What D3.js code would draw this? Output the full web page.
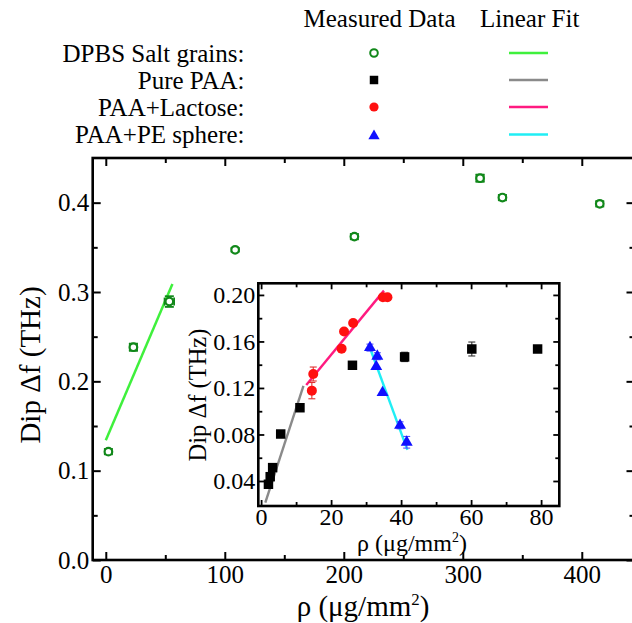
<!DOCTYPE html>
<html>
<head>
<meta charset="utf-8">
<script src="https://cdn.jsdelivr.net/npm/d3@7/dist/d3.min.js"></script>
<style>
  html, body { margin: 0; padding: 0; background: #fff; }
  svg { display: block; }
  svg text { font-family: "Liberation Serif", "Times New Roman", serif; }
</style>
</head>
<body>
<svg id="chart" width="632" height="623"></svg>
<script>
const SERIF = "Liberation Serif, Times New Roman, serif";

// ---- Main panel: DPBS salt grains ----
const saltX    = [2.2, 23.2, 53.4, 108.7, 208.9, 314.5, 333.3, 415.1];
const saltY    = [0.1213, 0.2382, 0.2893, 0.3472, 0.362, 0.4274, 0.4057, 0.3987];
const saltYErr = [0.003, 0.004, 0.006, 0.002, 0.003, 0.004, 0.003, 0.003];
const saltXErr = [0, 3, 4, 0, 0, 3, 0, 0];
const saltFitX = [0, 56];
const saltFitY = [0.134, 0.309];

// ---- Inset: Pure PAA ----
const paaX    = [2.1, 2.6, 3.3, 5.6, 11.1, 26.1, 41.0, 60.2, 79.0];
const paaY    = [0.0372, 0.0437, 0.0515, 0.0804, 0.103, 0.1395, 0.1467, 0.1535, 0.1535];
const paaYErr = [0, 0, 0, 0, 0, 0, 0.004, 0.006, 0];
const paaFitX = [1.2, 12.1];
const paaFitY = [0.0213, 0.1217];

// ---- Inset: PAA + Lactose ----
const lacX    = [14.5, 14.9, 23.0, 23.7, 26.3, 34.8, 36.1];
const lacY    = [0.1177, 0.132, 0.1538, 0.1685, 0.1759, 0.198, 0.198];
const lacYErr = [0.007, 0.006, 0, 0, 0, 0, 0];
const lacFitX = [12.9, 35.1];
const lacFitY = [0.1226, 0.2037];

// ---- Inset: PAA + PE sphere ----
const peX    = [31.1, 33.2, 32.9, 34.7, 39.7, 41.6];
const peY    = [0.1547, 0.1473, 0.1384, 0.116, 0.0879, 0.0733];
const peYErr = [0.003, 0.003, 0, 0, 0.003, 0.005];
const peFitX = [30.9, 41.8];
const peFitY = [0.1561, 0.0667];

// ---- Tick values ----
const mainXTicks  = [0, 100, 200, 300, 400];
const mainXMinor  = [50, 150, 250, 350];
const mainYTicks  = [0.0, 0.1, 0.2, 0.3, 0.4];
const mainYMinor  = [0.05, 0.15, 0.25, 0.35];
const insetXTicks = [0, 20, 40, 60, 80];
const insetXMinor = [10, 30, 50, 70];
const insetYTicks = [0.04, 0.08, 0.12, 0.16, 0.20];
const insetYMinor = [0.06, 0.10, 0.14, 0.18];

// ---- Legend ----
const legendNames = ["DPBS Salt grains:", "Pure PAA:", "PAA+Lactose:", "PAA+PE sphere:"];
const legendHeaders = ["Measured Data", "Linear Fit"];

const C = {
  salt: "#11881a", saltFit: "#3ff03c",
  paa: "#000000", paaFit: "#8a8a8a",
  lac: "#ff1010", lacFit: "#ff1a80",
  pe: "#1010ff", peFit: "#20eef5"
};

const svg = d3.select("#chart");

// ================= Main panel =================
const x = d3.scaleLinear().domain([-11, 444.3]).range([92.7, 634.5]);
const y = d3.scaleLinear().domain([0, 0.45]).range([560, 158]);

function frameAxes(g, xs, ys, o) {
  const [x0, x1] = xs.range();
  const [y0, y1] = ys.range();
  const ax = (gen, tx, ty) => {
    const a = g.append("g").attr("transform", `translate(${tx},${ty})`).call(gen)
      .attr("font-family", SERIF);
    a.select(".domain").remove();
    a.selectAll(".tick line").attr("stroke", "#000").attr("stroke-width", o.tw);
    return a;
  };
  const noLab = () => "";
  // bottom (labelled)
  const b = ax(d3.axisBottom(xs).tickValues(o.xt).tickSizeInner(-o.maj).tickSizeOuter(0).tickPadding(o.xpad).tickFormat(o.xf), 0, y0);
  b.selectAll("text").attr("font-size", o.fs).attr("fill", "#000").attr("font-family", SERIF);
  ax(d3.axisBottom(xs).tickValues(o.xm).tickSizeInner(-o.min).tickSizeOuter(0).tickFormat(noLab), 0, y0);
  // top
  ax(d3.axisTop(xs).tickValues(o.xt).tickSizeInner(-o.maj).tickSizeOuter(0).tickFormat(noLab), 0, y1);
  ax(d3.axisTop(xs).tickValues(o.xm).tickSizeInner(-o.min).tickSizeOuter(0).tickFormat(noLab), 0, y1);
  // left (labelled)
  const l = ax(d3.axisLeft(ys).tickValues(o.yt).tickSizeInner(-o.maj).tickSizeOuter(0).tickPadding(o.ypad).tickFormat(o.yf), x0, 0);
  l.selectAll("text").attr("font-size", o.fs).attr("fill", "#000").attr("font-family", SERIF);
  ax(d3.axisLeft(ys).tickValues(o.ym).tickSizeInner(-o.min).tickSizeOuter(0).tickFormat(noLab), x0, 0);
  // right
  ax(d3.axisRight(ys).tickValues(o.yt).tickSizeInner(-o.maj).tickSizeOuter(0).tickFormat(noLab), x1, 0);
  ax(d3.axisRight(ys).tickValues(o.ym).tickSizeInner(-o.min).tickSizeOuter(0).tickFormat(noLab), x1, 0);
  // frame
  g.append("rect").attr("x", x0).attr("y", y1).attr("width", x1 - x0).attr("height", y0 - y1)
    .attr("fill", "none").attr("stroke", "#000").attr("stroke-width", o.fw);
}

const main = svg.append("g");
frameAxes(main, x, y, {
  xt: mainXTicks, xm: mainXMinor, yt: mainYTicks, ym: mainYMinor,
  xf: d3.format("d"), yf: d3.format(".1f"),
  maj: 8, min: 5, tw: 2, fw: 2.6, fs: 25, xpad: 5, ypad: 3.5
});

// axis titles
function rhoTitle(g, cx, by, fs) {
  const t = g.append("text").attr("x", cx).attr("y", by).attr("text-anchor", "middle")
    .attr("font-family", SERIF).attr("font-size", fs).attr("fill", "#000");
  t.append("tspan").text("ρ (μg/mm");
  t.append("tspan").attr("font-size", fs * 0.58).attr("dy", -fs * 0.38).text("2");
  t.append("tspan").attr("dy", fs * 0.38).text(")");
}
rhoTitle(main, 363, 616, 29);
main.append("text").attr("transform", "translate(39.5,365) rotate(-90)")
  .attr("text-anchor", "middle").attr("font-family", SERIF).attr("font-size", 29)
  .attr("fill", "#000").text("Dip Δf (THz)");

// salt fit line
main.append("line")
  .attr("x1", x(saltFitX[0])).attr("y1", y(saltFitY[0]))
  .attr("x2", x(saltFitX[1])).attr("y2", y(saltFitY[1]))
  .attr("stroke", C.saltFit).attr("stroke-width", 2.5);

// salt points with error bars
const saltG = main.append("g");
saltX.forEach((v, i) => {
  const cx = x(v), cy = y(saltY[i]);
  const yt = y(saltY[i] + saltYErr[i]), yb = y(saltY[i] - saltYErr[i]);
  const eb = saltG.append("g").attr("stroke", C.salt).attr("stroke-width", 1.8).attr("fill", "none");
  eb.append("line").attr("x1", cx).attr("x2", cx).attr("y1", yt).attr("y2", yb);
  eb.append("line").attr("x1", cx - 4.5).attr("x2", cx + 4.5).attr("y1", yt).attr("y2", yt);
  eb.append("line").attr("x1", cx - 4.5).attr("x2", cx + 4.5).attr("y1", yb).attr("y2", yb);
  if (saltXErr[i] > 0) {
    const xl = x(v - saltXErr[i]), xr = x(v + saltXErr[i]);
    eb.append("line").attr("x1", xl).attr("x2", xr).attr("y1", cy).attr("y2", cy);
    eb.append("line").attr("x1", xl).attr("x2", xl).attr("y1", cy - 4).attr("y2", cy + 4);
    eb.append("line").attr("x1", xr).attr("x2", xr).attr("y1", cy - 4).attr("y2", cy + 4);
  }
  saltG.append("circle").attr("cx", cx).attr("cy", cy).attr("r", 3.8)
    .attr("fill", "#fff").attr("stroke", C.salt).attr("stroke-width", 2.2);
});

// ================= Inset =================
const ix = d3.scaleLinear().domain([-0.8, 85.2]).range([258.3, 559.3]);
const iy = d3.scaleLinear().domain([0.0185, 0.21]).range([506, 283.3]);

const inset = svg.append("g");
inset.append("rect").attr("x", 258.3).attr("y", 283.3)
  .attr("width", ix.range()[1] - ix.range()[0]).attr("height", iy.range()[0] - iy.range()[1])
  .attr("fill", "#fff");

// fit lines
const fits = [
  [paaFitX, paaFitY, C.paaFit],
  [lacFitX, lacFitY, C.lacFit],
  [peFitX, peFitY, C.peFit]
];
fits.forEach(([fx, fy, col]) => {
  inset.append("line")
    .attr("x1", ix(fx[0])).attr("y1", iy(fy[0]))
    .attr("x2", ix(fx[1])).attr("y2", iy(fy[1]))
    .attr("stroke", col).attr("stroke-width", 2.4);
});

function errBars(g, xs, ys, errs, col) {
  xs.forEach((v, i) => {
    if (!errs[i]) return;
    const cx = ix(v), yt = iy(ys[i] + errs[i]), yb = iy(ys[i] - errs[i]);
    const e = g.append("g").attr("stroke", col).attr("stroke-width", 1.1);
    e.append("line").attr("x1", cx).attr("x2", cx).attr("y1", yt).attr("y2", yb);
    e.append("line").attr("x1", cx - 3.5).attr("x2", cx + 3.5).attr("y1", yt).attr("y2", yt);
    e.append("line").attr("x1", cx - 3.5).attr("x2", cx + 3.5).attr("y1", yb).attr("y2", yb);
  });
}
errBars(inset, paaX, paaY, paaYErr, "#333");
errBars(inset, lacX, lacY, lacYErr, "#e03030");
errBars(inset, peX, peY, peYErr, "#5050ff");

const sq = d3.symbol().type(d3.symbolSquare).size(90);
const tri = d3.symbol().type(d3.symbolTriangle).size(62);

inset.append("g").selectAll("path").data(paaX).join("path")
  .attr("d", sq).attr("transform", (d, i) => `translate(${ix(d)},${iy(paaY[i])})`).attr("fill", C.paa);
inset.append("g").selectAll("circle").data(lacX).join("circle")
  .attr("cx", d => ix(d)).attr("cy", (d, i) => iy(lacY[i])).attr("r", 5).attr("fill", C.lac);
inset.append("g").selectAll("path").data(peX).join("path")
  .attr("d", tri).attr("transform", (d, i) => `translate(${ix(d)},${iy(peY[i])})`).attr("fill", C.pe);

frameAxes(inset, ix, iy, {
  xt: insetXTicks, xm: insetXMinor, yt: insetYTicks, ym: insetYMinor,
  xf: d3.format("d"), yf: d3.format(".2f"),
  maj: 6, min: 4, tw: 1.8, fw: 2.6, fs: 24, xpad: 1.5, ypad: 3
});
rhoTitle(inset, 412, 551, 24);
inset.append("text").attr("transform", "translate(206,395) rotate(-90)")
  .attr("text-anchor", "middle").attr("font-family", SERIF).attr("font-size", 24.5)
  .attr("fill", "#000").text("Dip Δf (THz)");

// ================= Legend =================
const leg = svg.append("g").attr("font-family", SERIF).attr("font-size", 25).attr("fill", "#000");
leg.append("text").attr("x", 379.5).attr("y", 27).attr("text-anchor", "middle").text(legendHeaders[0]);
leg.append("text").attr("x", 529.7).attr("y", 27).attr("text-anchor", "middle").text(legendHeaders[1]);
const rowY = [53, 80, 107, 134.5];
legendNames.forEach((n, i) => {
  leg.append("text").attr("x", 244.5).attr("y", rowY[i] + 8.6).attr("text-anchor", "end").text(n);
});
const legFitCols = [C.saltFit, C.paaFit, C.lacFit, C.peFit];
legFitCols.forEach((c, i) => {
  leg.append("line").attr("x1", 509).attr("x2", 548).attr("y1", rowY[i]).attr("y2", rowY[i])
    .attr("stroke", c).attr("stroke-width", 2.5);
});
const mx = 374;
leg.append("circle").attr("cx", mx).attr("cy", rowY[0]).attr("r", 3.8)
  .attr("fill", "#fff").attr("stroke", C.salt).attr("stroke-width", 2);
leg.append("path").attr("d", d3.symbol().type(d3.symbolSquare).size(72))
  .attr("transform", `translate(${mx},${rowY[1]})`).attr("fill", C.paa);
leg.append("circle").attr("cx", mx).attr("cy", rowY[2]).attr("r", 4.6).attr("fill", C.lac);
leg.append("path").attr("d", d3.symbol().type(d3.symbolTriangle).size(55))
  .attr("transform", `translate(${mx},${rowY[3] + 1.5})`).attr("fill", C.pe);
</script>
</body>
</html>
